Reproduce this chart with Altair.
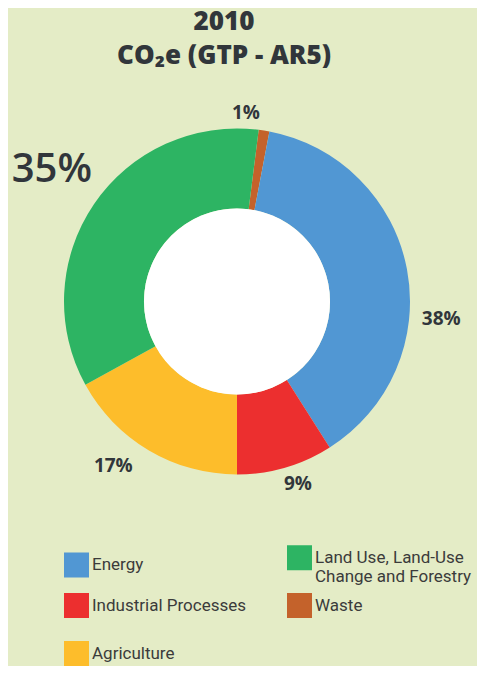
import math
import altair as alt
import pandas as pd

# ---- data ----
categories = ["Waste", "Energy", "Industrial Processes", "Agriculture",
              "Land Use, Land-Use Change and Forestry"]
values = [1, 38, 9, 17, 35]
labels = ["1%", "38%", "9%", "17%", "35%"]
colors = ["#c4622b", "#5197d3", "#ec2f2f", "#fdbd2b", "#2db463"]
# legend is filled column by column
legend_order = ["Energy", "Industrial Processes", "Agriculture",
                "Land Use, Land-Use Change and Forestry", "Waste"]
title_lines = ["2010", "CO₂e (GTP - AR5)"]

df = pd.DataFrame({"category": categories, "value": values,
                   "label": labels, "order": list(range(len(categories)))})

total = sum(values)
# rotate so that Industrial Processes ends exactly at the bottom
start = math.pi - 2 * math.pi * sum(values[:3]) / total

W, H = 469, 658
CX, CY = 229, 293.5
R_OUT, R_IN = 173, 93
TXT = "#31363b"

color_scale = alt.Scale(domain=legend_order,
                        range=[colors[categories.index(c)] for c in legend_order])
theta_scale = alt.Scale(range=[start, start + 2 * math.pi])

base = alt.Chart(df)

arcs = base.mark_arc(outerRadius=R_OUT, innerRadius=R_IN).encode(
    x=alt.value(CX), y=alt.value(CY),
    theta=alt.Theta("value:Q", stack=True, scale=theta_scale),
    color=alt.Color("category:N", scale=color_scale, legend=alt.Legend(
        title=None, orient="none", legendX=56, legendY=537, columns=2,
        gridAlign="all",
        symbolType="square", symbolSize=625, symbolStrokeWidth=0, symbolOpacity=1,
        labelFont="Roboto", labelFontSize=17, labelColor="#3b3b3b", labelLimit=300,
        columnPadding=38, rowPadding=8, labelOffset=3, padding=0,
        labelExpr="datum.label == 'Land Use, Land-Use Change and Forestry' ? "
                  "['Land Use, Land-Use', 'Change and Forestry'] : datum.label",
    )),
    order=alt.Order("order:Q"),
)

hole = alt.Chart(pd.DataFrame({"a": [0]})).mark_arc(
    theta=0, theta2=2 * math.pi, outerRadius=R_IN, color="white"
).encode(x=alt.value(CX), y=alt.value(CY))

text_base = base.transform_window(
    cum="sum(value)", sort=[alt.SortField("order")], frame=[None, 0]
).transform_calculate(mid="datum.cum - datum.value / 2")

label_style = {
    "Waste": dict(radius=189, thetaOffset=-0.11, fontSize=19, fontWeight="bold"),
    "Energy": dict(radius=205, thetaOffset=0.276, fontSize=19, fontWeight="bold"),
    "Industrial Processes": dict(radius=192, thetaOffset=-0.04, fontSize=19, fontWeight="bold"),
    "Agriculture": dict(radius=206, thetaOffset=0.11, fontSize=19, fontWeight="bold"),
    "Land Use, Land-Use Change and Forestry": dict(radius=227, thetaOffset=0.02,
                                                   fontSize=40, fontWeight=600),
}

text_layers = []
for cat, st in label_style.items():
    text_layers.append(
        text_base.transform_filter(alt.datum.category == cat).mark_text(
            font="Open Sans", color=TXT, align="center", baseline="middle", **st
        ).encode(
            x=alt.value(CX), y=alt.value(CY),
            theta=alt.Theta("mid:Q", stack=None, scale=theta_scale),
            text="label:N",
        )
    )

title = alt.Chart(pd.DataFrame({"a": [0]})).mark_text(
    font="Open Sans", fontSize=26, fontWeight=800, color=TXT,
    align="center", baseline="top", lineHeight=34,
).encode(x=alt.value(216), y=alt.value(1), text=alt.value(title_lines))

chart = alt.layer(arcs, hole, title, *text_layers).properties(
    width=W, height=H, autosize=alt.AutoSizeParams(type="none"), padding=0,
    background="#e4ecc6",
).configure_view(stroke=None)

chart.save("out.html", embed_options={"renderer": "svg", "actions": False})
